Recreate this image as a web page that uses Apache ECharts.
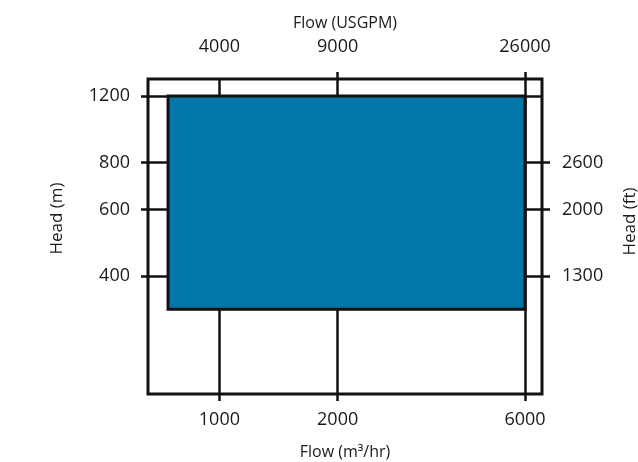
<!DOCTYPE html>
<html>
<head>
<meta charset="utf-8">
<script src="https://cdn.jsdelivr.net/npm/echarts@6/dist/echarts.min.js"></script>
<style>
html,body{margin:0;padding:0;background:#fff;}
#c{width:638px;height:462px;}
</style>
</head>
<body>
<div id="c"></div>
<script>
// Flow axis (m3/hr) ticks and matching USGPM labels on the top axis
const flowTicks = [1000, 2000, 6000];
const flowTopLabels = ['4000', '9000', '26000'];
const flowTopTicks = [2000, 6000];
// Head axis (m) ticks and matching ft labels on the right axis
const headTicks = [400, 600, 800, 1200];
const headRightTicks = [400, 600, 800];
const headRightLabels = ['1300', '2000', '2600'];
// Axis extents
const flowExtent = [658, 6627];
const headExtent = [195, 1331];
// Operating envelope rectangle: [flowMin, flowMax, headMin, headMax]
const envelope = [740, 6000, 327, 1200];

const TXT = '#1a1a1a';
const FONT = 'Open Sans';

function lookup(v, ticks, labels) {
  for (let i = 0; i < ticks.length; i++) {
    if (Math.abs(v - ticks[i]) / ticks[i] < 1e-4) return labels[i];
  }
  return '';
}
function plain(v) { return String(Math.round(v)); }

const chart = echarts.init(document.getElementById('c'), null, {renderer: 'canvas'});
const lineStyle = {color: '#111', width: 2.5};

chart.setOption({
  animation: false,
  textStyle: {fontFamily: FONT},
  grid: {left: 148, right: 96, top: 79, bottom: 68, show: true, borderColor: '#111', borderWidth: 3,
    backgroundColor: 'transparent', containLabel: false, outerBoundsMode: 'none'},
  xAxis: [{
    type: 'log', position: 'bottom', min: flowExtent[0], max: flowExtent[1],
    name: 'Flow (m³/hr)', nameLocation: 'middle', nameGap: 50,
    nameTextStyle: {color: TXT, fontSize: 16, fontFamily: FONT},
    axisLine: {show: false},
    axisTick: {show: true, customValues: flowTicks, length: 7, inside: false, lineStyle: lineStyle},
    axisLabel: {show: true, customValues: flowTicks, margin: 17, color: TXT, fontSize: 18, fontFamily: FONT, formatter: plain},
    splitLine: {show: true, lineStyle: lineStyle},
    minorTick: {show: false}, minorSplitLine: {show: false}
  }, {
    type: 'log', position: 'top', min: flowExtent[0], max: flowExtent[1],
    name: 'Flow (USGPM)', nameLocation: 'middle', nameGap: 48,
    nameTextStyle: {color: TXT, fontSize: 16, fontFamily: FONT},
    axisLine: {show: false},
    axisTick: {show: true, customValues: flowTopTicks, length: 7, inside: false, lineStyle: lineStyle},
    axisLabel: {show: true, customValues: flowTicks, margin: 23, color: TXT, fontSize: 18, fontFamily: FONT,
      formatter: v => lookup(v, flowTicks, flowTopLabels)},
    splitLine: {show: false}
  }],
  yAxis: [{
    type: 'log', position: 'left', min: headExtent[0], max: headExtent[1],
    name: 'Head (m)', nameLocation: 'middle', nameGap: 82, nameRotate: 90,
    nameTextStyle: {color: TXT, fontSize: 17, fontFamily: FONT, padding: [0, 0, 0, 36]},
    axisLine: {show: false},
    axisTick: {show: true, customValues: headTicks, length: 7, inside: false, lineStyle: lineStyle},
    axisLabel: {show: true, customValues: headTicks, margin: 18, color: TXT, fontSize: 18, fontFamily: FONT, formatter: plain},
    splitLine: {show: true, lineStyle: lineStyle}
  }, {
    type: 'log', position: 'right', min: headExtent[0], max: headExtent[1],
    name: 'Head (ft)', nameLocation: 'middle', nameGap: 80, nameRotate: 90,
    nameTextStyle: {color: TXT, fontSize: 17, fontFamily: FONT, padding: [0, 0, 0, 30]},
    axisLine: {show: false},
    axisTick: {show: true, customValues: headRightTicks, length: 8, inside: false, lineStyle: lineStyle},
    axisLabel: {show: true, customValues: headRightTicks, margin: 20, color: TXT, fontSize: 18, fontFamily: FONT,
      formatter: v => lookup(v, headRightTicks, headRightLabels)},
    splitLine: {show: false}
  }],
  series: [{
    type: 'custom',
    xAxisIndex: 0, yAxisIndex: 0,
    clip: false,
    encode: {x: [0, 1], y: [2, 3]},
    data: [envelope],
    renderItem: function (params, api) {
      const tl = api.coord([api.value(0), api.value(3)]);
      const br = api.coord([api.value(1), api.value(2)]);
      return {
        type: 'rect',
        shape: {x: tl[0], y: tl[1], width: br[0] - tl[0], height: br[1] - tl[1]},
        style: {fill: '#0477aa', stroke: '#111', lineWidth: 3}
      };
    }
  }]
});
</script>
</body>
</html>
